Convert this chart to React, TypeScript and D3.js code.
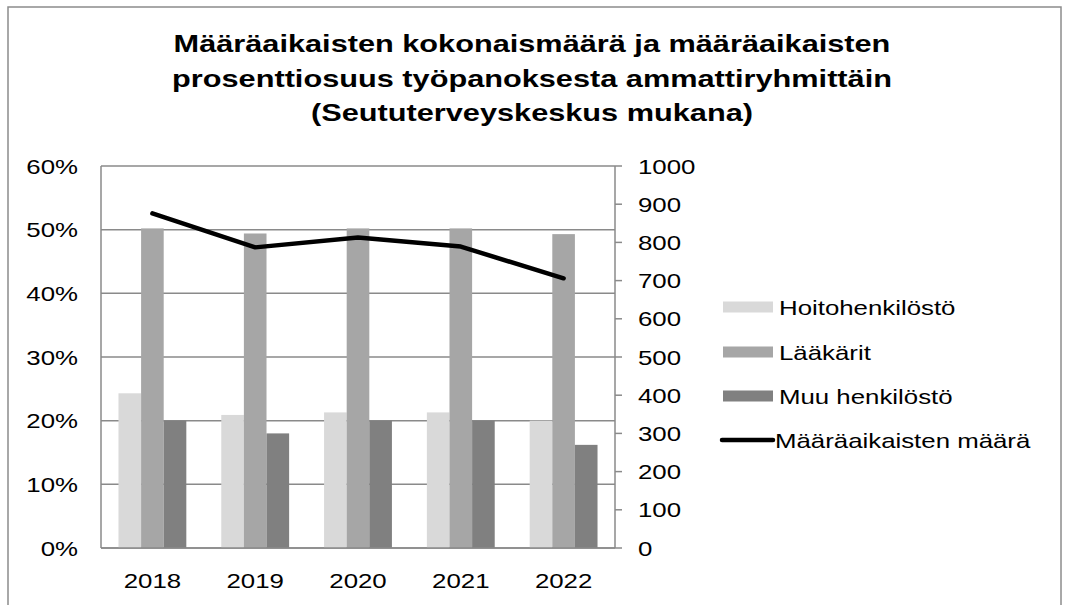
import * as d3 from 'd3';

const years = ['2018', '2019', '2020', '2021', '2022'];
const seriesNames = ['Hoitohenkilöstö', 'Lääkärit', 'Muu henkilöstö'];
const hoito = [24.3, 20.9, 21.3, 21.3, 20.0];
const laakarit = [50.2, 49.4, 50.2, 50.2, 49.3];
const muu = [20.0, 18.0, 20.0, 20.0, 16.2];
const maara = [876, 787, 813, 789, 706];
const lineName = 'Määräaikaisten määrä';
const pctTicks = [0, 10, 20, 30, 40, 50, 60];
const countTicks = [0, 100, 200, 300, 400, 500, 600, 700, 800, 900, 1000];
const titleLines = [
  'Määräaikaisten kokonaismäärä ja määräaikaisten',
  'prosenttiosuus työpanoksesta ammattiryhmittäin',
  '(Seututerveyskeskus mukana)',
];

const colors = ['#d9d9d9', '#a6a6a6', '#808080'];
const font = '"Liberation Sans", Arial, sans-serif';

// the picture is stretched sideways, so text is too
function T({ x, y, anchor = 'start', size = 21, sx = 1.23, bold = false, children }: any) {
  return (
    <text transform={`translate(${x},${y}) scale(${sx},1)`} textAnchor={anchor} fontSize={size}
      fontWeight={bold ? 'bold' : 'normal'} fill="#000">{children}</text>
  );
}

export default function App() {
  const W = 1065, H = 605;
  const left = 101, right = 615, top = 166, bottom = 548;

  const x = d3.scaleBand().domain(years).range([left, right]).paddingInner(0.34).paddingOuter(0.17);
  const xs = d3.scaleBand().domain(seriesNames).range([0, x.bandwidth()]);
  const yL = d3.scaleLinear().domain([0, 60]).range([bottom, top]);
  const yR = d3.scaleLinear().domain([0, 1000]).range([bottom, top]);

  const series = [hoito, laakarit, muu];
  const line = d3.line<number>()
    .x((_, i) => x(years[i])! + x.bandwidth() / 2)
    .y(d => yR(d));

  const legendY = [307, 352, 396, 440];
  const grid = '#8a8a8a';

  return (
    <svg width={W} height={H} style={{ position: 'absolute', left: 0, top: 0, background: '#fff' }} fontFamily={font}>
      <rect x={8} y={7} width={1053} height={620} fill="#fff" stroke="#8c8c8c" strokeWidth={1.5} />
      {titleLines.map((t, i) => (
        <T key={i} x={532} y={52 + i * 34.7} anchor="middle" size={24} sx={1.28} bold>{t}</T>
      ))}
      {pctTicks.map(t => (
        <g key={'g' + t}>
          <line x1={left} x2={right} y1={yL(t)} y2={yL(t)} stroke={grid} strokeWidth={1.5} />
          <T x={78} y={yL(t) + 7.5} anchor="end">{t}%</T>
        </g>
      ))}
      {series.map((vals, s) => vals.map((v, i) => (
        <rect key={s + '-' + i} x={x(years[i])! + xs(seriesNames[s])!} y={yL(v)} width={xs.bandwidth()} height={bottom - yL(v)} fill={colors[s]} />
      )))}
      <line x1={left} x2={left} y1={top} y2={bottom} stroke={grid} strokeWidth={1.5} />
      <line x1={right} x2={right} y1={top} y2={bottom} stroke={grid} strokeWidth={1.5} />
      <line x1={left} x2={right} y1={bottom} y2={bottom} stroke={grid} strokeWidth={1.5} />
      {countTicks.map(t => (
        <g key={'r' + t}>
          <line x1={right} x2={right + 7} y1={yR(t)} y2={yR(t)} stroke={grid} strokeWidth={1.5} />
          <T x={638} y={yR(t) + 7.5}>{t}</T>
        </g>
      ))}
      {years.map(yr => (
        <T key={yr} x={x(yr)! + x.bandwidth() / 2} y={588} anchor="middle">{yr}</T>
      ))}
      <path d={line(maara) || ''} fill="none" stroke="#000" strokeWidth={4.5} strokeLinejoin="round" strokeLinecap="round" />
      {seriesNames.map((n, i) => (
        <g key={n}>
          <rect x={723} y={legendY[i] - 5.5} width={50} height={11} fill={colors[i]} />
          <T x={779} y={legendY[i] + 7.5}>{n}</T>
        </g>
      ))}
      <line x1={722} x2={773} y1={legendY[3]} y2={legendY[3]} stroke="#000" strokeWidth={4.5} strokeLinecap="round" />
      <T x={775} y={legendY[3] + 7.5}>{lineName}</T>
    </svg>
  );
}
